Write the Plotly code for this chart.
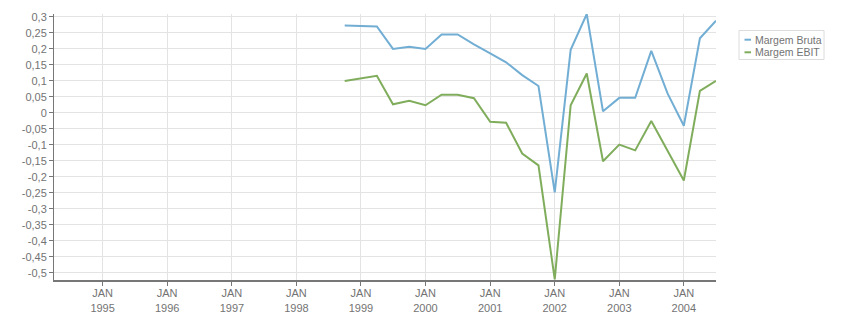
import plotly.graph_objects as go

dates = ["1998-10-01", "1999-01-01", "1999-04-01", "1999-07-01", "1999-10-01",
         "2000-01-01", "2000-04-01", "2000-07-01", "2000-10-01",
         "2001-01-01", "2001-04-01", "2001-07-01", "2001-10-01",
         "2002-01-01", "2002-04-01", "2002-07-01", "2002-10-01",
         "2003-01-01", "2003-04-01", "2003-07-01", "2003-10-01",
         "2004-01-01", "2004-04-01", "2004-07-01"]
margem_bruta = [0.273, 0.272, 0.270, 0.200, 0.207, 0.200, 0.245, 0.245, 0.214,
                0.186, 0.158, 0.118, 0.084, -0.248, 0.197, 0.309, 0.005, 0.047,
                0.047, 0.194, 0.061, -0.040, 0.233, 0.288]
margem_ebit = [0.100, 0.108, 0.116, 0.027, 0.038, 0.024, 0.057, 0.057, 0.046,
               -0.028, -0.031, -0.127, -0.164, -0.520, 0.024, 0.123, -0.151, -0.099,
               -0.117, -0.025, -0.118, -0.211, 0.069, 0.100]
series_names = ["Margem Bruta", "Margem EBIT"]
colors = ["#72aed4", "#80ad5c"]

x_tick_years = [1995, 1996, 1997, 1998, 1999, 2000, 2001, 2002, 2003, 2004]
x_tickvals = [f"{y}-01-01" for y in x_tick_years]
x_ticktext = [f"JAN<br>{y}" for y in x_tick_years]

y_tickvals = [round(-0.5 + 0.05 * i, 2) for i in range(17)]
y_ticktext = [f"{v:g}".replace(".", ",") for v in y_tickvals]

W, H = 851, 313
L, R, T, B = 54, 716, 14, 280

def px(x):
    return (x - L) / (R - L)

def py(y):
    return (B - y) / (B - T)

fig = go.Figure()
for name, vals, c in zip(series_names, [margem_bruta, margem_ebit], colors):
    fig.add_trace(go.Scatter(x=dates, y=vals, mode="lines", name=name,
                             line=dict(color=c, width=2), showlegend=False))

font = dict(family="Liberation Sans, Arial, sans-serif", size=11, color="#737373")
legfont = dict(family="Liberation Sans, Arial, sans-serif", size=10.5, color="#737373")

shapes = [dict(type="rect", xref="paper", yref="paper",
               x0=px(739), x1=px(824), y0=py(59.5), y1=py(30.5),
               line=dict(color="#dcdcdc", width=1), fillcolor="white")]
annotations = []
for i, (name, c) in enumerate(zip(series_names, colors)):
    yy = 39.7 + i * 12.6
    shapes.append(dict(type="line", xref="paper", yref="paper",
                       x0=px(744.5), x1=px(751), y0=py(yy), y1=py(yy),
                       line=dict(color=c, width=2)))
    annotations.append(dict(xref="paper", yref="paper", x=px(752.5), y=py(yy),
                            text=name, showarrow=False, xanchor="left",
                            yanchor="middle", font=legfont))

fig.update_layout(
    width=W, height=H,
    margin=dict(l=L, r=W - R, t=T, b=H - B, pad=0, autoexpand=False),
    plot_bgcolor="white", paper_bgcolor="white",
    font=font,
    shapes=shapes, annotations=annotations,
    xaxis=dict(type="date", range=["1994-04-01", "2004-07-01"],
               tickvals=x_tickvals, ticktext=x_ticktext, automargin=False,
               showgrid=True, gridcolor="#e3e3e3", gridwidth=1,
               showline=True, linecolor="#777777", linewidth=2,
               ticks="outside", ticklen=4, tickcolor="#777777",
               ticklabelstandoff=-2,
               zeroline=False, tickfont=font),
    yaxis=dict(range=[-0.522, 0.309], automargin=False,
               tickvals=y_tickvals, ticktext=y_ticktext,
               showgrid=True, gridcolor="#e3e3e3", gridwidth=1,
               showline=True, linecolor="#777777", linewidth=1,
               ticks="outside", ticklen=4, tickcolor="#777777",
               zeroline=False, tickfont=font),
)

fig.write_html("out.html")
